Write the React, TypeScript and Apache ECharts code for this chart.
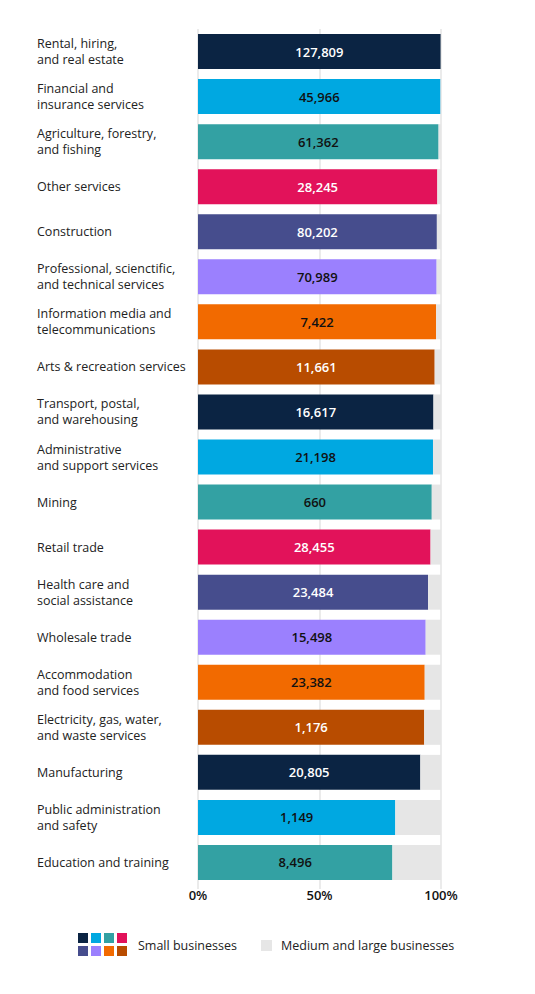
import React, { useEffect, useRef } from "react";
import * as echarts from "echarts";

const industries = [
  "Rental, hiring,\nand real estate",
  "Financial and\ninsurance services",
  "Agriculture, forestry,\nand fishing",
  "Other services",
  "Construction",
  "Professional, scienctific,\nand technical services",
  "Information media and\ntelecommunications",
  "Arts & recreation services",
  "Transport, postal,\nand warehousing",
  "Administrative\nand support services",
  "Mining",
  "Retail trade",
  "Health care and\nsocial assistance",
  "Wholesale trade",
  "Accommodation\nand food services",
  "Electricity, gas, water,\nand waste services",
  "Manufacturing",
  "Public administration\nand safety",
  "Education and training",
];

// share of businesses that are small (%)
const smallShare = [
  99.9, 99.8, 99.0, 98.5, 98.3, 98.2, 98.0, 97.4, 96.9, 96.7, 96.2, 95.7, 94.7,
  93.7, 93.3, 93.1, 91.5, 81.2, 80.0,
];

// number of small businesses (bar labels)
const smallCount = [
  127809, 45966, 61362, 28245, 80202, 70989, 7422, 11661, 16617, 21198, 660,
  28455, 23484, 15498, 23382, 1176, 20805, 1149, 8496,
];

const xTicks = ["0%", "50%", "100%"];

const palette = [
  "#0b2443", "#00a8e1", "#33a1a3", "#e2125a",
  "#464d8d", "#9b80fe", "#f26a00", "#b84c00",
];
const labelColors = [
  "#ffffff", "#111111", "#111111", "#ffffff",
  "#ffffff", "#111111", "#111111", "#ffffff",
];
const greyColor = "#e6e6e6";
const font = "'Open Sans', sans-serif";

const App: React.FC = () => {
  const chartRef = useRef<HTMLDivElement>(null);

  useEffect(() => {
    const chart = echarts.init(chartRef.current!, undefined, { renderer: "svg" });

    const smallData = smallShare.map((v, i) => ({
      value: v,
      itemStyle: { color: palette[i % palette.length] },
      label: { color: labelColors[i % labelColors.length] },
    }));
    const restData = smallShare.map((v) => +(100 - v).toFixed(1));

    // legend swatches
    const swatches: any[] = palette.map((c, i) => ({
      type: "rect",
      left: 70 + (i % 4) * 13,
      top: 925 + Math.floor(i / 4) * 13,
      shape: { width: 10, height: 10 },
      style: { fill: c },
    }));

    chart.setOption({
      animation: false,
      textStyle: { fontFamily: font },
      grid: { left: 190, right: 86, top: 21, height: 856 },
      xAxis: {
        type: "value",
        min: 0,
        max: 100,
        interval: 50,
        position: "bottom",
        axisLine: { show: false },
        axisTick: { show: true, length: 4, lineStyle: { color: "#e4e4e4", width: 1.5 } },
        splitLine: { show: true, lineStyle: { color: "#e4e4e4", width: 1.5 } },
        axisLabel: {
          color: "#111",
          fontWeight: 600,
          fontSize: 13,
          fontFamily: font,
          margin: 3,
          formatter: (v: number) => xTicks[Math.round(v / 50)],
        },
      },
      yAxis: {
        type: "category",
        inverse: true,
        data: industries,
        axisLine: { show: false },
        axisTick: { show: false },
        axisLabel: {
          align: "left",
          margin: 161,
          color: "#222",
          fontSize: 12.5,
          lineHeight: 16,
          fontFamily: font,
        },
      },
      series: [
        {
          name: "Small businesses",
          type: "bar",
          stack: "total",
          barWidth: 35,
          data: smallData,
          label: {
            show: true,
            position: "inside",
            fontSize: 13,
            fontWeight: 600,
            fontFamily: font,
            formatter: (p: any) => smallCount[p.dataIndex].toLocaleString("en-US"),
          },
        },
        {
          name: "Medium and large businesses",
          type: "bar",
          stack: "total",
          barWidth: 35,
          itemStyle: { color: greyColor },
          data: restData,
        },
      ],
      graphic: [
        ...swatches,
        {
          type: "text",
          left: 130,
          top: 931,
          style: { text: "Small businesses", fill: "#222", fontSize: 12.5, fontFamily: font },
        },
        {
          type: "rect",
          left: 253,
          top: 932,
          shape: { width: 11, height: 11 },
          style: { fill: greyColor },
        },
        {
          type: "text",
          left: 273,
          top: 931,
          style: {
            text: "Medium and large businesses",
            fill: "#222",
            fontSize: 12.5,
            fontFamily: font,
          },
        },
      ],
    });

    const handleResize = () => chart.resize();
    window.addEventListener("resize", handleResize);
    return () => {
      window.removeEventListener("resize", handleResize);
      chart.dispose();
    };
  }, []);

  return <div ref={chartRef} style={{ width: "519px", height: "978px" }} />;
};

export default App;
